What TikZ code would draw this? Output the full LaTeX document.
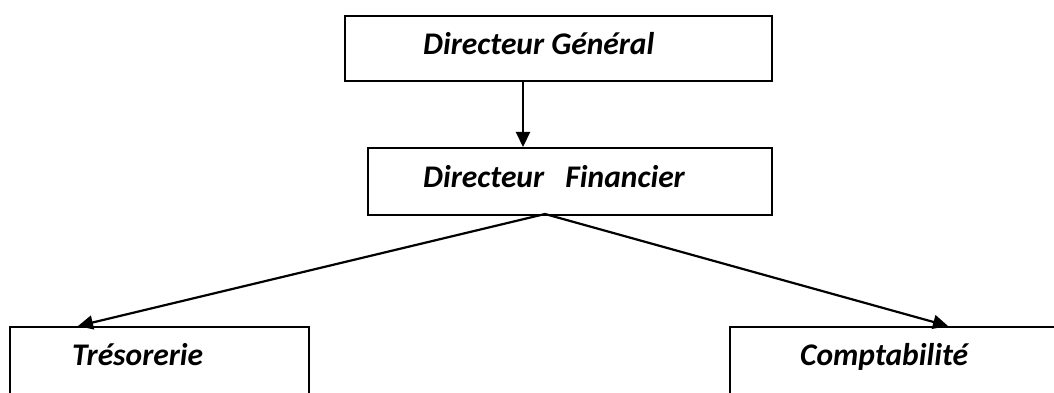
\documentclass[tikz,border=0pt]{standalone}
\usepackage{fontspec}
\setmainfont{Carlito}
\usetikzlibrary{arrows.meta, positioning}

\tikzset{
  box/.style={draw, line width=2.2pt, inner sep=0pt, anchor=north west},
  lbl/.style={anchor=base west, inner sep=0pt, font=\fontsize{31.5}{38}\selectfont\bfseries\itshape},
  link/.style={line width=2.2pt, -{Triangle[length=15pt,width=14pt]}}
}

\begin{document}
\begin{tikzpicture}[x=1pt,y=-1pt]
  \useasboundingbox (0,0) rectangle (1054,393);

  \node[box, minimum width=427pt, minimum height=65pt] (dg) at (344,15) {};
  \node[box, minimum width=404pt, minimum height=67pt] (df) at (367,147) {};
  \node[box, minimum width=299pt, minimum height=120pt] (tr) at (9,326) {};
  \node[box, minimum width=400pt, minimum height=120pt] (co) at (729,326) {};

  \node[lbl] (dgt) at (423,55) {Directeur Général};
  \node[lbl] (dft) at (423,187) {Directeur \ \ Financier};
  \node[lbl] (trt) at (72,365) {Trésorerie};
  \node[lbl] (cot) at (800,365) {Comptabilité};

  \coordinate (down) at (523,80);
  \coordinate (fork) at (545,214);
  \coordinate (trin) at (78,326);
  \coordinate (coin) at (948,326);

  \draw[link] (down) -- (down |- df.north);
  \draw[link] (fork) -- (trin);
  \draw[link] (fork) -- (coin);
\end{tikzpicture}
\end{document}
